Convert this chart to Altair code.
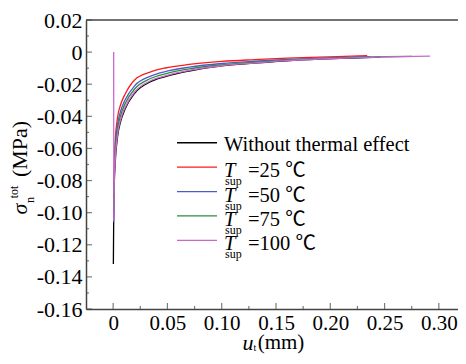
import altair as alt
import pandas as pd

# ---------------- data ----------------
series = ["Without thermal effect", "T_sup=25 ℃", "T_sup=50 ℃", "T_sup=75 ℃", "T_sup=100 ℃"]
colors = ["#000000", "#ff1a1a", "#4b5cc4", "#2f8a40", "#cc66cc"]
legend_temps = ["25", "50", "75", "100"]

black_x = [0.0002, 0.0005, 0.001, 0.002, 0.004, 0.007, 0.011, 0.02, 0.034, 0.048, 0.07, 0.1, 0.13, 0.16, 0.19, 0.22, 0.246]
black_y = [-0.132, -0.105, -0.084, -0.068, -0.053, -0.043, -0.0355, -0.0255, -0.0186, -0.0153, -0.0118, -0.0086, -0.0069, -0.0054, -0.0044, -0.0037, -0.0031]

red_x = [0.0004, 0.001, 0.002, 0.004, 0.007, 0.011, 0.02, 0.034, 0.048, 0.07, 0.1, 0.13, 0.16, 0.19, 0.22, 0.234]
red_y = [-0.09, -0.07, -0.0545, -0.041, -0.0325, -0.0262, -0.0172, -0.0125, -0.0099, -0.0077, -0.0058, -0.0047, -0.0038, -0.0031, -0.0025, -0.0022]

blue_x = [0.0005, 0.001, 0.002, 0.004, 0.007, 0.011, 0.02, 0.034, 0.048, 0.07, 0.1, 0.13, 0.16, 0.19, 0.22, 0.237]
blue_y = [-0.106, -0.076, -0.059, -0.0455, -0.0365, -0.0298, -0.0208, -0.0151, -0.0121, -0.0094, -0.0071, -0.0057, -0.0046, -0.0038, -0.0031, -0.0028]

green_x = [0.0004, 0.001, 0.002, 0.004, 0.007, 0.011, 0.02, 0.034, 0.048, 0.07, 0.1, 0.13, 0.16, 0.19, 0.22, 0.25, 0.275]
green_y = [-0.098, -0.079, -0.0625, -0.0485, -0.0393, -0.0322, -0.0228, -0.0166, -0.0135, -0.0104, -0.0079, -0.0063, -0.005, -0.0041, -0.0034, -0.0029, -0.0026]

pink_x = [0.0005, 0.0006, 0.001, 0.002, 0.004, 0.007, 0.011, 0.02, 0.034, 0.048, 0.07, 0.1, 0.13, 0.16, 0.19, 0.22, 0.25, 0.292]
pink_y = [0.0, -0.105, -0.082, -0.066, -0.0515, -0.0418, -0.0345, -0.0247, -0.018, -0.0148, -0.0114, -0.0085, -0.0068, -0.0053, -0.0043, -0.0036, -0.003, -0.0025]

x_ticks = [0, 0.05, 0.10, 0.15, 0.20, 0.25, 0.30]
x_minor = [0.025, 0.075, 0.125, 0.175, 0.225, 0.275]
y_ticks = [-0.16, -0.14, -0.12, -0.10, -0.08, -0.06, -0.04, -0.02, 0, 0.02]
y_minor = [-0.15, -0.13, -0.11, -0.09, -0.07, -0.05, -0.03, -0.01, 0.01]

# ---------------- layout ----------------
PX_PER_X = 380 / 0.35      # reference pixels per mm
PX_PER_Y = 299 / 0.18      # reference pixels per MPa
W, H = 372, 289
XD = [-0.025, -0.025 + W / PX_PER_X]
YD = [-0.16, 0.02]
FONT = "Liberation Serif"
FONT_DEG = "Liberation Serif, Noto Sans CJK SC"
AX = "#444444"


def dx_(px):  # reference pixel offset -> data (x)
    return XD[0] + px / PX_PER_X


def dy_(py):  # reference pixel offset -> data (y)
    return YD[1] - py / PX_PER_Y


rows = []
for name, xs, ys in zip(series, [black_x, red_x, blue_x, green_x, pink_x],
                        [black_y, red_y, blue_y, green_y, pink_y]):
    for i, (a, b) in enumerate(zip(xs, ys)):
        rows.append({"series": name, "x": a, "y": b, "i": i})
df = pd.DataFrame(rows)

color = alt.Color("series:N", scale=alt.Scale(domain=series, range=colors), legend=None)
xscale = alt.Scale(domain=XD, nice=False, zero=False)
yscale = alt.Scale(domain=YD, nice=False, zero=False)

xax = alt.Axis(values=x_ticks, title=None, ticks=False, grid=False, labelFontSize=21,
               labelFont=FONT, labelColor="black", labelPadding=3, labelOverlap=False,
               labelExpr="datum.value == 0 ? '0' : format(datum.value, '.2f')",
               domainColor=AX, domainWidth=1.5)
yax = alt.Axis(values=y_ticks, title=None, ticks=False, grid=False, labelFontSize=22,
               labelFont=FONT, labelColor="black", labelPadding=4, labelOverlap=False,
               labelExpr="datum.value == 0 ? '0' : (datum.value < 0 ? '-' : '') + format(abs(datum.value), '.2f')",
               domainColor=AX, domainWidth=1.5)


def X(f):
    return alt.X(f, scale=xscale, axis=xax)


def Y(f):
    return alt.Y(f, scale=yscale, axis=yax)


lines = alt.Chart(df).mark_line(strokeWidth=1.3, interpolate="monotone").encode(
    x=X("x:Q"), y=Y("y:Q"), color=color, order="i:Q")

# top frame line
one = pd.DataFrame({"a": [0]})
top = alt.Chart(one).mark_rule(color=AX, strokeWidth=1.5).encode(
    x=alt.value(0), x2=alt.value(W), y=alt.value(0))

# inside ticks
yt_major = alt.Chart(pd.DataFrame({"y": y_ticks})).mark_tick(
    orient="horizontal", size=6, thickness=1.2, color=AX).encode(y=Y("y:Q"), x=alt.value(3))
yt_minor = alt.Chart(pd.DataFrame({"y": y_minor})).mark_tick(
    orient="horizontal", size=3, thickness=1.2, color=AX).encode(y=Y("y:Q"), x=alt.value(1.5))
xt_major = alt.Chart(pd.DataFrame({"x": x_ticks})).mark_tick(
    orient="vertical", size=6, thickness=1.2, color=AX).encode(x=X("x:Q"), y=alt.value(H - 3))
xt_minor = alt.Chart(pd.DataFrame({"x": x_minor})).mark_tick(
    orient="vertical", size=3, thickness=1.2, color=AX).encode(x=X("x:Q"), y=alt.value(H - 1.5))

# custom legend (positions in data units)
leg = pd.DataFrame({
    "series": series,
    "lx1": [dx_(91)] * 5,
    "lx2": [dx_(131)] * 5,
    "tx": [dx_(138)] * 5,
    "ly": [dy_(127 + k * 25.25) for k in range(5)],
    "first": ["Without thermal effect"] + [""] * 4,
    "T": [""] + ["T"] * 4,
    "sub": [""] + ["sup"] * 4,
    "rest": [""] + ["=" + t + " ℃" for t in legend_temps],
})
lbase = alt.Chart(leg)
leg_lines = lbase.mark_rule(strokeWidth=1.3).encode(
    x=X("lx1:Q"), x2="lx2:Q", y=Y("ly:Q"), color=color)
tenc = dict(x=X("tx:Q"), y=Y("ly:Q"))
leg_t0 = lbase.mark_text(align="left", baseline="middle", fontSize=20.5, font=FONT, dy=2,
                         color="black").encode(text="first:N", **tenc)
leg_t1 = lbase.mark_text(align="left", baseline="middle", fontSize=20.5, font=FONT, dy=4,
                         fontStyle="italic", color="black").encode(text="T:N", **tenc)
leg_t2 = lbase.mark_text(align="left", baseline="middle", fontSize=12, font=FONT, dy=14, dx=1,
                         color="black").encode(text="sub:N", **tenc)
leg_t3 = lbase.mark_text(align="left", baseline="middle", fontSize=20.5, font=FONT_DEG, dy=4, dx=24,
                         color="black").encode(text="rest:N", **tenc)


def label(txt, x, y, size, italic=False, angle=0):
    kw = dict(align="center", baseline="middle", fontSize=size, font=FONT, color="black")
    if italic:
        kw["fontStyle"] = "italic"
    if angle:
        kw["angle"] = angle
    return alt.Chart(pd.DataFrame({"t": [txt]})).mark_text(**kw).encode(
        x=alt.value(x), y=alt.value(y), text="t:N")


titles = [
    label("u", 162, H + 34, 22, italic=True),
    label("t", 169, H + 39, 10),
    label("(mm)", 195, H + 34, 21),
    label("σ", -66, 189, 22, italic=True, angle=270),
    label("n", -56, 180, 12, angle=270),
    label("tot", -72, 172, 12, angle=270),
    label("(MPa)", -66, 129, 22, angle=270),
]

chart = alt.layer(
    lines, top, yt_major, yt_minor, xt_major, xt_minor,
    leg_lines, leg_t0, leg_t1, leg_t2, leg_t3, *titles
).properties(
    width=W, height=H,
    autosize=alt.AutoSizeParams(type="none"),
    padding={"left": 78, "top": 12, "right": 0, "bottom": 45},
).configure_view(stroke=None)

chart.save("out.html", embed_options={"renderer": "svg", "actions": False})
